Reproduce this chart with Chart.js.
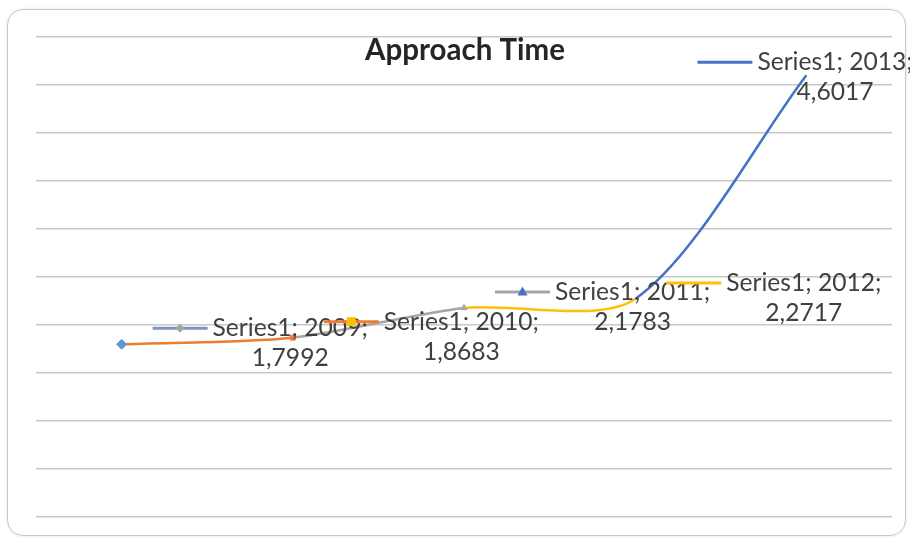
<!DOCTYPE html>
<html>
<head>
<meta charset="utf-8">
<script src="https://cdn.jsdelivr.net/npm/chart.js@4/dist/chart.umd.min.js"></script>
<style>
  html, body { margin: 0; padding: 0; background: #ffffff; }
  #wrap { position: relative; width: 910px; height: 541px; overflow: hidden; background: #ffffff; }
  #frame {
    position: absolute; left: 7px; top: 9px; width: 899px; height: 527px;
    border: 1.5px solid #c8c8c8; border-radius: 16px; box-sizing: border-box;
    box-shadow: 0 0 3px rgba(0,0,0,0.12);
  }
  #chart { position: absolute; left: 0; top: 0; }
</style>
</head>
<body>
<div id="wrap">
  <div id="frame"></div>
  <canvas id="chart" width="910" height="541"></canvas>
</div>
<script>
// Approach time per year, single series
const seriesName = 'Series1';
const years = ['2009', '2010', '2011', '2012', '2013'];
const approachTime = [1.7992, 1.8683, 2.1783, 2.2717, 4.6017];

// Value axis range and gridline step
const yMin = 0;
const yMax = 5;
const yStep = 0.5;

const chartTitle = 'Approach Time';

// Colours vary by point (Office palette)
const segmentColors = ['#ed7d31', '#a5a5a5', '#ffc000', '#4472c4'];
const pointColors = ['#5b9bd5', '#ed7d31', '#a5a5a5', '#ffc000', '#4472c4'];
const pointStyles = ['rectRot', 'rect', 'triangle', 'circle', 'circle'];
const pointRadii = [5, 3.5, 3.5, 0, 0];

// Legend keys shown in front of each data label
const keyLineColors = ['#7f96b8', '#ed7d31', '#a5a5a5', '#ffc000', '#4472c4'];
const keyMarkerColors = ['#a5a5a5', '#ffc000', '#4472c4', null, null];
const keyMarkerStyles = ['rectRot', 'rect', 'triangle', null, null];
// Where each label sits relative to its point
const labelPlacement = ['right', 'right', 'right', 'right', 'above'];

const labelFamily = "Lato, 'Open Sans', 'DejaVu Sans', sans-serif";

function fmtValue(v) {
  return v.toFixed(4).replace('.', ',');
}

function fitFont(ctx, text, weight, targetWidth) {
  ctx.font = weight + ' 20px ' + labelFamily;
  const w = ctx.measureText(text).width;
  return 20 * targetWidth / w;
}

function drawMarker(ctx, style, x, y, r, color) {
  ctx.save();
  ctx.fillStyle = color;
  ctx.beginPath();
  if (style === 'rectRot') {
    ctx.moveTo(x, y - r); ctx.lineTo(x + r, y); ctx.lineTo(x, y + r); ctx.lineTo(x - r, y);
  } else if (style === 'rect') {
    ctx.rect(x - r, y - r, 2 * r, 2 * r);
  } else if (style === 'triangle') {
    ctx.moveTo(x, y - r * 1.2); ctx.lineTo(x + r * 1.1, y + r * 0.8); ctx.lineTo(x - r * 1.1, y + r * 0.8);
  }
  ctx.closePath();
  ctx.fill();
  ctx.restore();
}

const titlePlugin = {
  id: 'chartTitleText',
  afterDraw(chart) {
    const ctx = chart.ctx;
    const size = fitFont(ctx, chartTitle, 'bold', 200);
    ctx.save();
    ctx.font = 'bold ' + size.toFixed(1) + 'px ' + labelFamily;
    ctx.fillStyle = '#262626';
    ctx.textAlign = 'center';
    ctx.textBaseline = 'middle';
    ctx.fillText(chartTitle, 465, 50);
    ctx.restore();
  }
};

const dataLabelPlugin = {
  id: 'keyedDataLabels',
  afterDatasetsDraw(chart) {
    const ctx = chart.ctx;
    const meta = chart.getDatasetMeta(0);
    const size = fitFont(ctx, seriesName + '; 2009;', 'normal', 155);
    ctx.save();
    ctx.font = size.toFixed(1) + 'px ' + labelFamily;
    ctx.textBaseline = 'middle';
    meta.data.forEach((pt, i) => {
      const line1 = seriesName + '; ' + years[i] + ';';
      const line2 = fmtValue(approachTime[i]);
      let keyX0, y1, y2;
      if (labelPlacement[i] === 'above') {
        keyX0 = pt.x - 109; y1 = pt.y - 13; y2 = pt.y + 17;
      } else {
        keyX0 = pt.x + 31; y1 = pt.y - 16; y2 = pt.y + 14;
      }
      const keyLen = 55;
      // legend key line + marker
      ctx.strokeStyle = keyLineColors[i];
      ctx.lineWidth = 3;
      ctx.beginPath();
      ctx.moveTo(keyX0, y1);
      ctx.lineTo(keyX0 + keyLen, y1);
      ctx.stroke();
      if (keyMarkerStyles[i]) {
        drawMarker(ctx, keyMarkerStyles[i], keyX0 + keyLen / 2, y1, 4.5, keyMarkerColors[i]);
      }
      // label text
      const tx = keyX0 + keyLen + 5;
      const w1 = ctx.measureText(line1).width;
      ctx.fillStyle = '#404040';
      ctx.textAlign = 'left';
      ctx.fillText(line1, tx, y1);
      ctx.textAlign = 'center';
      ctx.fillText(line2, tx + w1 / 2, y2);
    });
    ctx.restore();
  }
};

new Chart(document.getElementById('chart'), {
  type: 'line',
  data: {
    labels: years,
    datasets: [{
      label: seriesName,
      data: approachTime,
      tension: 0.28,
      borderWidth: 2.5,
      borderColor: segmentColors[0],
      segment: {
        borderColor: c => segmentColors[c.p0DataIndex]
      },
      pointStyle: pointStyles,
      pointRadius: pointRadii,
      pointBackgroundColor: pointColors,
      pointBorderColor: pointColors,
      pointBorderWidth: 1,
      fill: false
    }]
  },
  options: {
    responsive: false,
    animation: false,
    events: [],
    layout: { padding: { left: 36, right: 18, top: 37, bottom: 24 } },
    plugins: {
      legend: { display: false },
      tooltip: { enabled: false },
      title: { display: false }
    },
    scales: {
      x: { display: false, offset: true },
      y: {
        min: yMin, max: yMax,
        ticks: { stepSize: yStep, display: false },
        border: { display: false },
        grid: { color: '#c8c8c8', lineWidth: 1.5, drawTicks: false }
      }
    }
  },
  plugins: [dataLabelPlugin, titlePlugin]
});
</script>
</body>
</html>
